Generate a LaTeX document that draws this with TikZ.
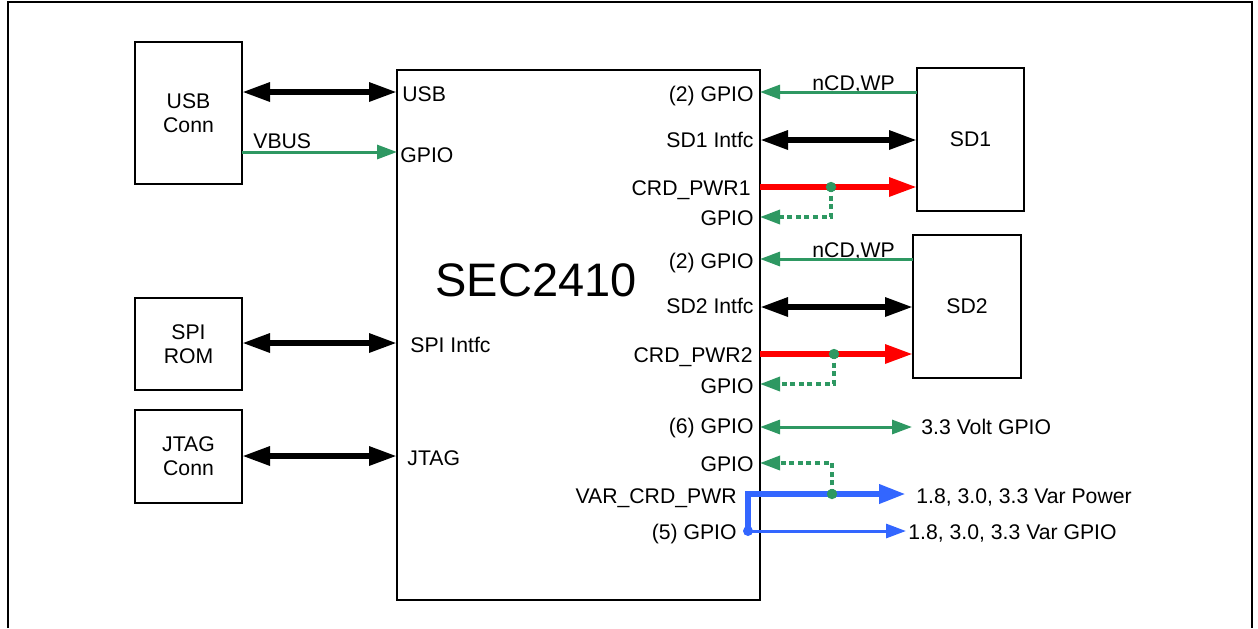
\documentclass[tikz,border=0pt]{standalone}
\usepackage{fontspec}
\setmainfont{Liberation Sans}
\usetikzlibrary{arrows.meta}
\definecolor{sgreen}{RGB}{46,152,98}
\definecolor{sblue}{RGB}{51,102,255}
\newcommand\lblfont{\fontsize{10.6}{12}\selectfont}
\begin{document}
\begin{tikzpicture}[x=0.5pt,y=-0.5pt,
 box/.style={draw,line width=0.8pt,inner sep=0pt,outer sep=0pt,align=center,font=\lblfont},
 lbl/.style={inner sep=0pt,font=\lblfont,text height=7.6pt,text depth=0pt},
 bus/.style={line width=3pt,{Triangle[length=14pt,width=9pt]}-{Triangle[length=14pt,width=9pt]}},
 sig/.style={sgreen,line width=1.5pt,-{Triangle[length=10pt,width=7pt]}},
 sigb/.style={sgreen,line width=1.5pt,{Triangle[length=10pt,width=7pt]}-{Triangle[length=10pt,width=7pt]}},
 pwr/.style={red,line width=3pt,-{Triangle[length=14pt,width=9pt]}},
 vpwr/.style={sblue,line width=3.2pt,line join=miter,-{Triangle[length=13.5pt,width=9pt]}},
 vsig/.style={sblue,line width=1.5pt,-{Triangle[length=10pt,width=7pt]}},
 sense/.style={sgreen,line width=1.7pt,dash pattern=on 2.5pt off 1.8pt,-{Triangle[length=10pt,width=7pt]}},
]
\useasboundingbox (0,0) rectangle (1258,628);
% frame
\draw[line width=1pt] (8,628) -- (8,1.5) -- (1251.5,1.5) -- (1251.5,628);

% boxes
\node[box,minimum width=53.5pt,minimum height=71pt] (usbc) at (188.5,113) {USB\\Conn};
\node[box,minimum width=181.5pt,minimum height=265pt] (sec) at (578.5,335) {};
\node[box,minimum width=53.5pt,minimum height=46pt] (spi) at (188.5,344) {SPI\\ROM};
\node[box,minimum width=53.5pt,minimum height=46.5pt] (jtag) at (188.5,456.5) {JTAG\\Conn};
\node[box,minimum width=53.5pt,minimum height=71.5pt] (sd1) at (970.5,139.5) {SD1};
\node[box,minimum width=54pt,minimum height=71.5pt] (sd2) at (967,306.5) {SD2};

\node[inner sep=0pt,font=\fontsize{23.5}{28}\selectfont] (title) at (536,280) {SEC2410};

% left labels inside SEC
\node[lbl,anchor=west] (lusb) at (402,94) {USB};
\node[lbl,anchor=west] (lgp) at (400,155) {GPIO};
\node[lbl,anchor=west] (lspi) at (410,345) {SPI Intfc};
\node[lbl,anchor=west] (ljt) at (407,458) {JTAG};
\node[lbl,anchor=west] (lvbus) at (253,141) {VBUS};

% right labels inside SEC
\node[lbl,anchor=east] (r1) at (754,94) {(2) GPIO};
\node[lbl,anchor=east] (r2) at (754,140) {SD1 Intfc};
\node[lbl,anchor=east] (r3) at (751,188) {CRD\_PWR1};
\node[lbl,anchor=east] (r4) at (754,218) {GPIO};
\node[lbl,anchor=east] (r5) at (754,261) {(2) GPIO};
\node[lbl,anchor=east] (r6) at (754,306) {SD2 Intfc};
\node[lbl,anchor=east] (r7) at (753,355) {CRD\_PWR2};
\node[lbl,anchor=east] (r8) at (754,386) {GPIO};
\node[lbl,anchor=east] (r9) at (754,426) {(6) GPIO};
\node[lbl,anchor=east] (r10) at (754,464) {GPIO};
\node[lbl,anchor=east] (r11) at (737,496) {VAR\_CRD\_PWR};
\node[lbl,anchor=east] (r12) at (737,532) {(5) GPIO};

\node[lbl,anchor=west] (ncd1) at (812,83) {nCD,WP};
\node[lbl,anchor=west] (ncd2) at (812,250) {nCD,WP};
\node[lbl,anchor=west] (o1) at (921,427) {3.3 Volt GPIO};
\node[lbl,anchor=west] (o2) at (916,496) {1.8, 3.0, 3.3 Var Power};
\node[lbl,anchor=west] (o3) at (908,532) {1.8, 3.0, 3.3 Var GPIO};

% left connectors
\draw[bus] (usbc.east |- 0,92) -- (sec.west |- 0,92);
\draw[sig] (usbc.east |- 0,152) -- (sec.west |- 0,152);
\draw[bus] (spi.east |- 0,343) -- (sec.west |- 0,343);
\draw[bus] (jtag.east |- 0,456) -- (sec.west |- 0,456);

% SD1
\draw[sig] (sd1.west |- 0,92) -- (sec.east |- 0,92);
\draw[bus] (sec.east |- 0,140) -- (sd1.west |- 0,140);
\draw[pwr] (sec.east |- 0,187) -- (sd1.west |- 0,187);
\coordinate (j1) at (831,187);
\draw[sense] (j1) |- (sec.east |- 0,217);
\fill[sgreen] (j1) circle (2.6pt);

% SD2
\draw[sig] (sd2.west |- 0,259) -- (sec.east |- 0,259);
\draw[bus] (sec.east |- 0,307) -- (sd2.west |- 0,307);
\draw[pwr] (sec.east |- 0,354) -- (sd2.west |- 0,354);
\coordinate (j2) at (834,354);
\draw[sense] (j2) |- (sec.east |- 0,384);
\fill[sgreen] (j2) circle (2.6pt);

% bottom
\coordinate (e6) at (912,427);
\draw[sigb] (sec.east |- e6) -- (e6);

\coordinate (jb) at (748,531);
\coordinate (ep) at (906,494);
\coordinate (eg) at (906,531);
\draw[vpwr] (jb) |- (ep);
\draw[vsig] (jb) -- (eg);
\fill[sblue] (jb) circle (2.5pt);
\coordinate (j3) at (832,494);
\draw[sense] (j3) |- (sec.east |- 0,463);
\fill[sgreen] (j3) circle (2.6pt);
\end{tikzpicture}
\end{document}
